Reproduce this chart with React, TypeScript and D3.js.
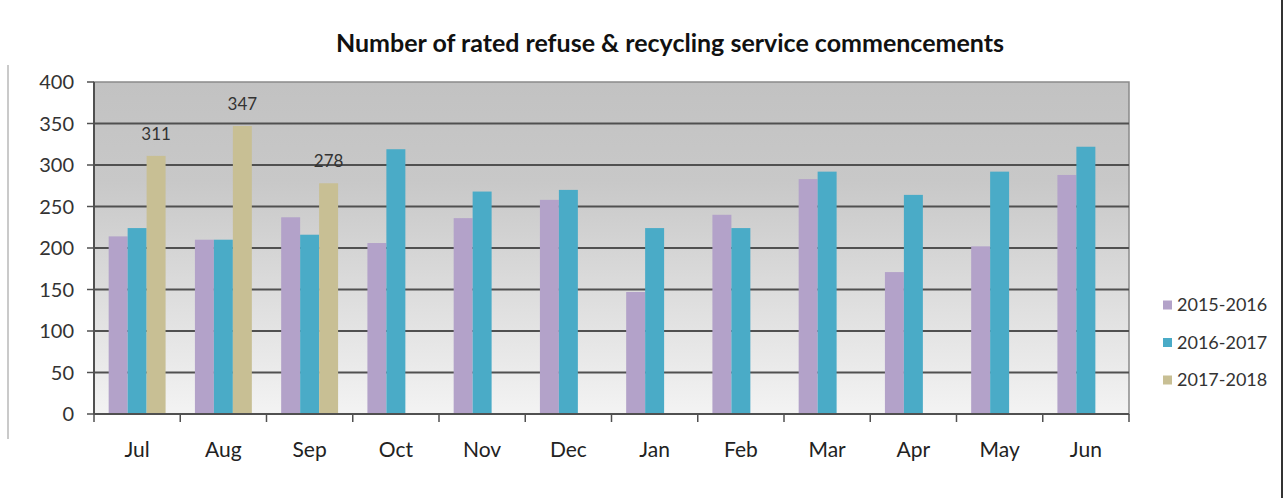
import React from "react";
import * as d3 from "d3";

const months = ["Jul", "Aug", "Sep", "Oct", "Nov", "Dec", "Jan", "Feb", "Mar", "Apr", "May", "Jun"];
const seriesNames = ["2015-2016", "2016-2017", "2017-2018"];
const values2015 = [214, 210, 237, 206, 236, 258, 147, 240, 283, 171, 202, 288];
const values2016 = [224, 210, 216, 319, 268, 270, 224, 224, 292, 264, 292, 322];
const values2017: (number | null)[] = [311, 347, 278, null, null, null, null, null, null, null, null, null];
const yTicks = [0, 50, 100, 150, 200, 250, 300, 350, 400];
const colors = ["#b3a2c9", "#4aabc7", "#c8bf94"];

const W = 1286;
const H = 498;
const left = 94;
const right = 1129;
const top = 82;
const bottom = 414;
const FONT = "Lato, 'Open Sans', sans-serif";

export default function App() {
  const allSeries = [values2015, values2016, values2017];
  const x = d3.scaleBand<string>().domain(months).range([left, right]).paddingInner(0.34).paddingOuter(0.17);
  const xs = d3.scaleBand<string>().domain(seriesNames).range([0, x.bandwidth()]).padding(0);
  const y = d3.scaleLinear().domain([0, 400]).range([bottom, top]);
  const step = (right - left) / months.length;
  const boundaries = d3.range(months.length + 1).map((i) => left + i * step);

  return (
    <svg width={W} height={H} style={{ position: "absolute", left: 0, top: 0, background: "#fff" }}>
      <defs>
        <linearGradient id="bg" x1="0" y1="0" x2="0" y2="1">
          <stop offset="0%" stopColor="#c2c2c2" />
          <stop offset="30%" stopColor="#c8c8c8" />
          <stop offset="100%" stopColor="#f3f3f3" />
        </linearGradient>
      </defs>
      <line x1={8} x2={8} y1={65} y2={439} stroke="#b8b8b8" strokeWidth={1.5} />
      <line x1={1282} x2={1282} y1={0} y2={H} stroke="#333" strokeWidth={2} />
      <text x={670} y={52} textAnchor="middle" fontFamily={FONT} fontWeight="bold" fontSize={25} fill="#111">
        Number of rated refuse &amp; recycling service commencements
      </text>
      <rect x={left} y={top} width={right - left} height={bottom - top} fill="url(#bg)" stroke="#8a8a8a" strokeWidth={1.5} />
      {yTicks.map((t) => (
        <g key={t}>
          {t > 0 && t < 400 && (
            <line x1={left} x2={right} y1={y(t)} y2={y(t)} stroke="#505050" strokeWidth={2} />
          )}
          <line x1={left - 7} x2={left} y1={y(t)} y2={y(t)} stroke="#505050" strokeWidth={1.5} />
          <text x={74} y={y(t)} dy="0.36em" textAnchor="end" fontFamily={FONT} fontSize={20} fill="#333">
            {t}
          </text>
        </g>
      ))}
      {months.map((m, i) =>
        allSeries.map((s, j) => {
          const v = s[i];
          if (v == null) return null;
          return (
            <rect
              key={m + j}
              x={(x(m) as number) + (xs(seriesNames[j]) as number)}
              y={y(v)}
              width={xs.bandwidth()}
              height={bottom - y(v)}
              fill={colors[j]}
            />
          );
        })
      )}
      {months.map((m, i) => {
        const v = values2017[i];
        if (v == null) return null;
        return (
          <text
            key={"lbl" + m}
            x={(x(m) as number) + (xs(seriesNames[2]) as number) + xs.bandwidth() / 2}
            y={y(v) - 16}
            textAnchor="middle"
            fontFamily={FONT}
            fontSize={17}
            fill="#333"
          >
            {v}
          </text>
        );
      })}
      <line x1={left} x2={right} y1={bottom} y2={bottom} stroke="#505050" strokeWidth={2} />
      <line x1={left} x2={left} y1={top} y2={bottom} stroke="#505050" strokeWidth={2} />
      {boundaries.map((b, i) => (
        <line key={"t" + i} x1={b} x2={b} y1={bottom} y2={bottom + 8} stroke="#505050" strokeWidth={1.5} />
      ))}
      {months.map((m) => (
        <text
          key={"x" + m}
          x={(x(m) as number) + x.bandwidth() / 2}
          y={457}
          textAnchor="middle"
          fontFamily={FONT}
          fontSize={21}
          fill="#222"
        >
          {m}
        </text>
      ))}
      {seriesNames.map((n, j) => (
        <g key={n} transform={`translate(1163, ${305 + j * 37.5})`}>
          <rect x={0} y={-4.5} width={9} height={9} fill={colors[j]} />
          <text x={14} y={0} dy="0.36em" fontFamily={FONT} fontSize={18} fill="#333">
            {n}
          </text>
        </g>
      ))}
    </svg>
  );
}
